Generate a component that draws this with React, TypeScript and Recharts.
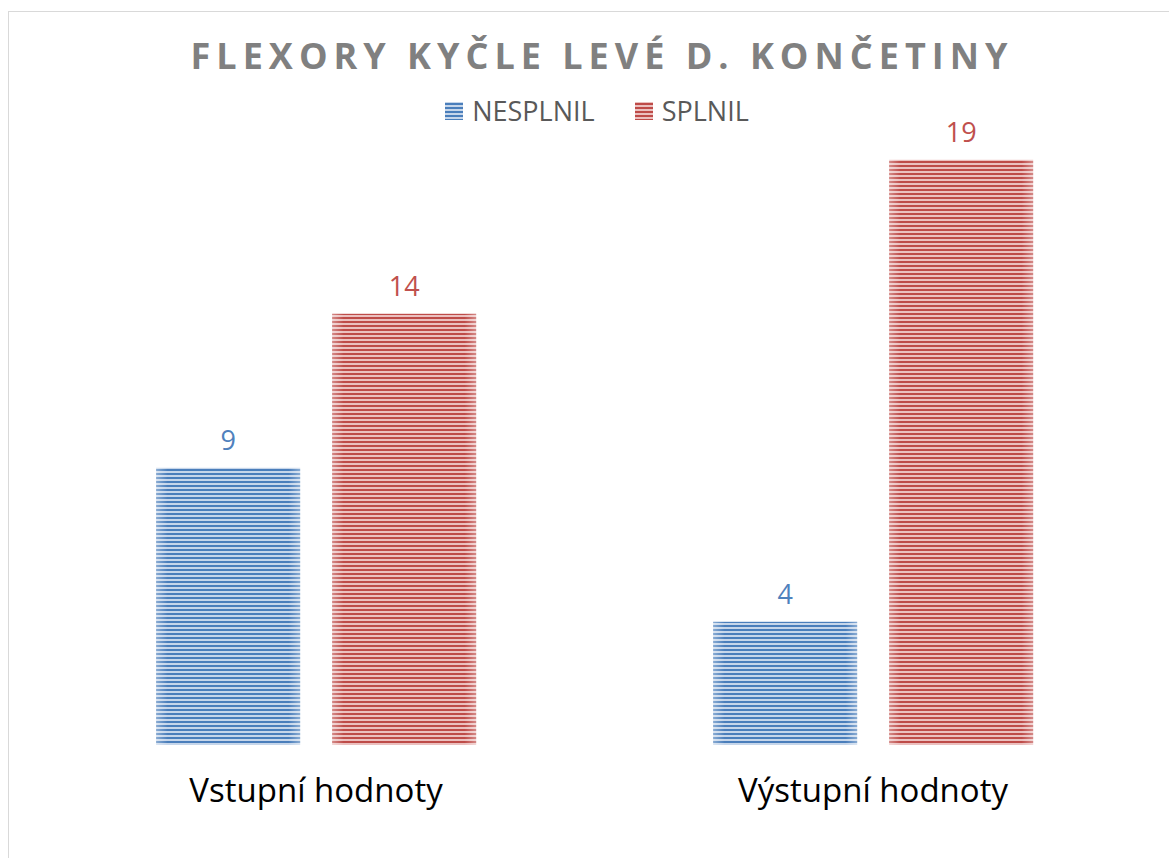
import React from "react";
import { BarChart, Bar, XAxis, YAxis, Legend, LabelList } from "recharts";

const categories = ["Vstupní hodnoty", "Výstupní hodnoty"];
const nesplnil = [9, 4];
const splnil = [14, 19];
const seriesNames = ["NESPLNIL", "SPLNIL"];

const data = categories.map((name, i) => ({
  name,
  nesplnil: nesplnil[i],
  splnil: splnil[i],
}));

const FONT = "'Open Sans', 'Noto Sans', sans-serif";
const BLUE = "#4f81bd";
const RED = "#c0504d";

const StripedBar = (props: any) => {
  const { x, y, width, height, patternId } = props;
  if (!height || height <= 0) return null;
  return (
    <g>
      <rect x={x} y={y} width={width} height={height} fill={`url(#${patternId})`} />
      <rect x={x} y={y} width={width} height={height} fill="url(#edgeFade)" />
    </g>
  );
};

const LegendContent = () => (
  <div
    style={{
      display: "flex",
      justifyContent: "center",
      alignItems: "center",
      paddingLeft: 16,
      fontFamily: FONT,
      fontSize: 27,
      color: "#595959",
    }}
  >
    {seriesNames.map((n, i) => (
      <div
        key={n}
        style={{ display: "flex", alignItems: "center", marginRight: i === 0 ? 40 : 0 }}
      >
        <svg width={18} height={18} style={{ marginRight: 9 }}>
          <rect width={18} height={18} fill={i === 0 ? "url(#blueStripes)" : "url(#redStripes)"} />
        </svg>
        <span>{n}</span>
      </div>
    ))}
  </div>
);

export default function App() {
  return (
    <div
      style={{
        position: "absolute",
        left: 8,
        top: 11,
        width: 1160,
        height: 846,
        borderLeft: "1px solid #d9d9d9",
        borderTop: "1px solid #d9d9d9",
        background: "#fff",
        fontFamily: FONT,
      }}
    >
      <div
        style={{
          position: "absolute",
          left: 0,
          top: 22,
          width: 1160,
          paddingLeft: 26,
          boxSizing: "border-box",
          textAlign: "center",
          fontSize: 36,
          fontWeight: 700,
          letterSpacing: 6,
          color: "#808080",
          whiteSpace: "nowrap",
          lineHeight: "44px",
        }}
      >
        FLEXORY KYČLE LEVÉ D. KONČETINY
      </div>
      <BarChart
        width={1160}
        height={846}
        data={data}
        margin={{ top: 80, right: 17.5, left: 28.5, bottom: 0 }}
        barGap={32}
        barCategoryGap="21.3%"
      >
        <defs>
          <pattern id="blueStripes" patternUnits="userSpaceOnUse" width={4} height={4}>
            <rect width={4} height={4} fill="#c6d6ea" />
            <rect y={1} width={4} height={2} fill="#4a7ebb" />
          </pattern>
          <pattern id="redStripes" patternUnits="userSpaceOnUse" width={4} height={4}>
            <rect width={4} height={4} fill="#ebc0bf" />
            <rect y={1} width={4} height={2} fill="#be4b48" />
          </pattern>
          <linearGradient id="edgeFade" x1="0" y1="0" x2="1" y2="0">
            <stop offset="0" stopColor="#fff" stopOpacity={0.35} />
            <stop offset="0.08" stopColor="#fff" stopOpacity={0} />
            <stop offset="0.92" stopColor="#fff" stopOpacity={0} />
            <stop offset="1" stopColor="#fff" stopOpacity={0.35} />
          </linearGradient>
        </defs>
        <XAxis
          dataKey="name"
          axisLine={false}
          tickLine={false}
          tickSize={0}
          tickMargin={34}
          height={113}
          tick={{ fill: "#000", fontSize: 33, fontFamily: FONT }}
        />
        <YAxis hide domain={[0, 20]} />
        <Legend
          verticalAlign="top"
          content={<LegendContent />}
          wrapperStyle={{ top: 80, left: 0, width: 1160 }}
        />
        <Bar
          dataKey="nesplnil"
          name={seriesNames[0]}
          isAnimationActive={false}
          shape={(p: any) => <StripedBar {...p} patternId="blueStripes" />}
        >
          <LabelList
            dataKey="nesplnil"
            position="top"
            offset={18}
            fill={BLUE}
            fontSize={27}
            fontFamily={FONT}
          />
        </Bar>
        <Bar
          dataKey="splnil"
          name={seriesNames[1]}
          isAnimationActive={false}
          shape={(p: any) => <StripedBar {...p} patternId="redStripes" />}
        >
          <LabelList
            dataKey="splnil"
            position="top"
            offset={18}
            fill={RED}
            fontSize={27}
            fontFamily={FONT}
          />
        </Bar>
      </BarChart>
    </div>
  );
}
